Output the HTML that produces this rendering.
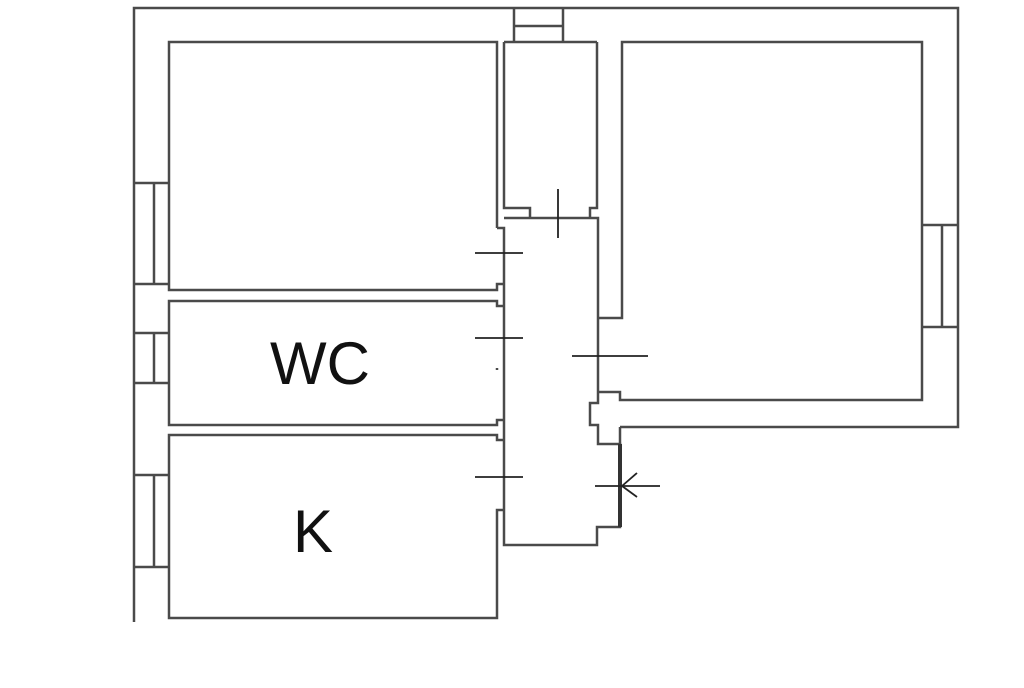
<!DOCTYPE html>
<html><head><style>html,body{margin:0;padding:0;background:#fff}</style></head><body>
<svg width="1024" height="683" viewBox="0 0 1024 683" xmlns="http://www.w3.org/2000/svg">
<g fill="none" stroke="#4a4a4a" stroke-width="2.5">
<!-- outer walls -->
<polyline points="134,622 134,8 958,8 958,427 620,427"/>
<!-- top window -->
<polyline points="514,8 514,42"/><polyline points="563,8 563,42"/><line x1="514" y1="26" x2="563" y2="26"/>
<!-- left windows -->
<line x1="134" y1="183" x2="169" y2="183"/><line x1="134" y1="284" x2="169" y2="284"/><line x1="154" y1="183" x2="154" y2="284"/>
<line x1="134" y1="333" x2="169" y2="333"/><line x1="134" y1="383" x2="169" y2="383"/><line x1="154" y1="333" x2="154" y2="383"/>
<line x1="134" y1="475" x2="169" y2="475"/><line x1="134" y1="567" x2="169" y2="567"/><line x1="154" y1="475" x2="154" y2="567"/>
<!-- right window -->
<line x1="922" y1="225" x2="958" y2="225"/><line x1="922" y1="327" x2="958" y2="327"/><line x1="942" y1="225" x2="942" y2="327"/>
<!-- room 1 -->
<polyline points="497,228 497,42 169,42 169,290 497,290 497,284 504,284"/>
<!-- WC -->
<polyline points="504,306 497,306 497,301 169,301 169,425 497,425 497,420 504,420"/>
<polyline points="497,368 497,370"/>
<!-- K -->
<polyline points="504,440 497,440 497,435 169,435 169,618 497,618 497,510 504,510"/>
<!-- small top room -->
<polyline points="504,42 504,208 530,208 530,218"/>
<polyline points="597,42 597,208 590,208 590,218"/>
<line x1="504" y1="42" x2="597" y2="42"/>
<!-- corridor -->
<polyline points="497,228 504,228 504,545 597,545 597,527 620,527 620,444 598,444 598,425 590,425 590,403 598,403 598,218 504,218"/>
<!-- right room -->
<polyline points="598,318 622,318 622,42 922,42 922,400 620,400 620,392 598,392"/>
<line x1="620" y1="427" x2="620" y2="444"/>
</g>
<line x1="620" y1="444" x2="620" y2="527" stroke="#333" stroke-width="4"/>
<g stroke="#222" stroke-width="1.8">
<line x1="475" y1="253" x2="523" y2="253"/>
<line x1="475" y1="338" x2="523" y2="338"/>
<line x1="572" y1="356" x2="648" y2="356"/>
<line x1="475" y1="477" x2="523" y2="477"/>
<line x1="558" y1="189" x2="558" y2="238"/>
<line x1="595" y1="486" x2="660" y2="486"/>
<line x1="622" y1="486" x2="637" y2="473"/>
<line x1="622" y1="486" x2="637" y2="497"/>
</g>
<text x="320" y="384" font-family="Liberation Sans, sans-serif" font-size="60" text-anchor="middle" fill="#111">WC</text>
<text x="313" y="552" font-family="Liberation Sans, sans-serif" font-size="60" text-anchor="middle" fill="#111">K</text>
</svg>
</body></html>
